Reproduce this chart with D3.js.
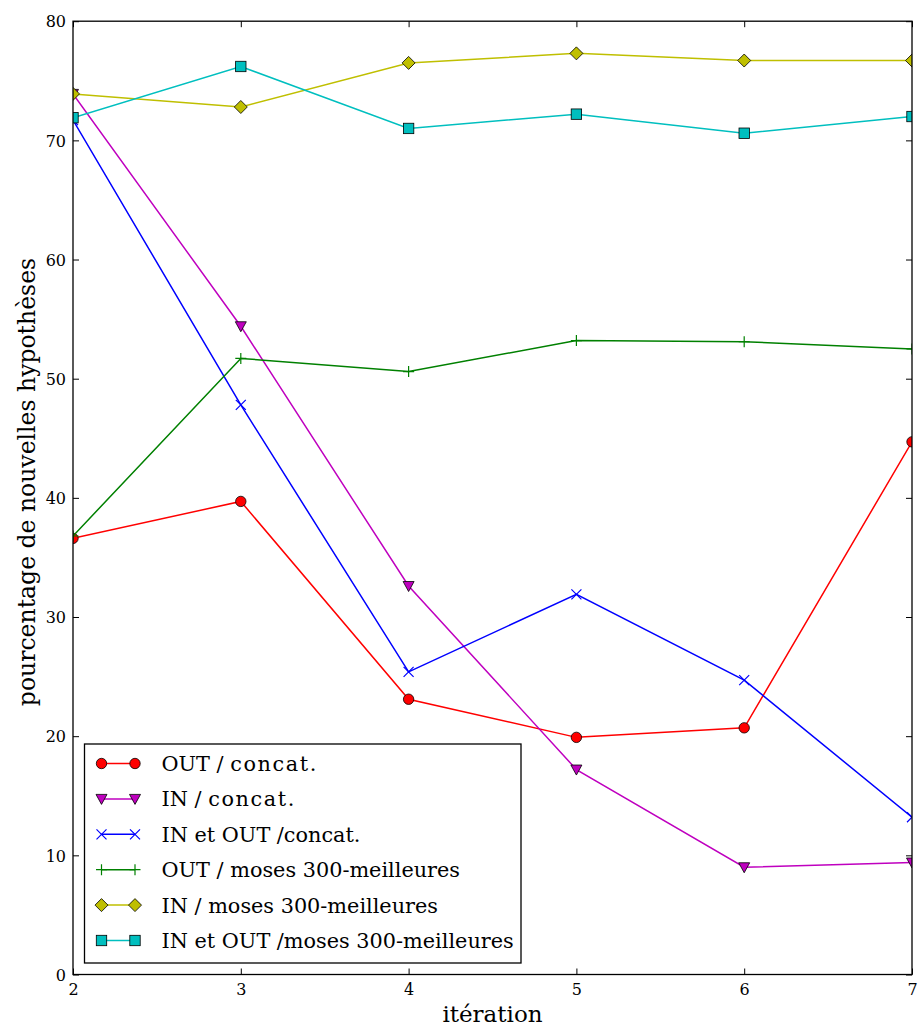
<!DOCTYPE html>
<html>
<head>
<meta charset="utf-8">
<script src="https://cdn.jsdelivr.net/npm/d3@7"></script>
<style>
  html, body { margin: 0; padding: 0; background: #fff; }
  svg { display: block; }
  text { font-family: "DejaVu Serif", serif; fill: #000; }
</style>
</head>
<body>
<svg id="chart" width="919" height="1030"></svg>
<script>
// ---- data ----
const iterations = [2, 3, 4, 5, 6, 7];
const outConcat   = [36.6, 39.7, 23.1, 19.9, 20.7, 44.7];
const inConcat    = [73.9, 54.4, 32.6, 17.2, 9.0, 9.4];
const inOutConcat = [71.7, 47.8, 25.4, 31.9, 24.7, 13.2];
const outMoses    = [36.8, 51.7, 50.6, 53.2, 53.1, 52.5];
const inMoses     = [73.9, 72.8, 76.5, 77.3, 76.7, 76.7];
const inOutMoses  = [71.9, 76.2, 71.0, 72.2, 70.6, 72.0];
const seriesLabels = [
  "OUT / concat.",
  "IN / concat.",
  "IN et OUT /concat.",
  "OUT / moses 300-meilleures",
  "IN / moses 300-meilleures",
  "IN et OUT /moses 300-meilleures"
];
const xTicks = [2, 3, 4, 5, 6, 7];
const yTicks = [0, 10, 20, 30, 40, 50, 60, 70, 80];
const xLabel = "itération";
const yLabel = "pourcentage de nouvelles hypothèses";

// ---- styles ----
const seriesValues = [outConcat, inConcat, inOutConcat, outMoses, inMoses, inOutMoses];
const colors = ["#ff0000", "#bf00bf", "#0000ff", "#008000", "#bfbf00", "#00bfbf"];
const markers = ["circle", "tri_down", "x", "plus", "diamond", "square"];

const svg = d3.select("#chart");
const plot = { left: 73, right: 912, top: 21.2, bottom: 974.5 };

const x = d3.scaleLinear().domain([2, 7]).range([plot.left, plot.right]);
const y = d3.scaleLinear().domain([0, 80]).range([plot.bottom, plot.top]);

svg.append("defs").append("clipPath").attr("id", "clip")
  .append("rect")
  .attr("x", plot.left).attr("y", plot.top)
  .attr("width", plot.right - plot.left).attr("height", plot.bottom - plot.top);

function drawMarker(g, type, color) {
  const ec = "#000", ew = 0.8;
  switch (type) {
    case "circle":
      g.append("circle").attr("r", 5.2).attr("fill", color).attr("stroke", ec).attr("stroke-width", ew); break;
    case "tri_down":
      g.append("path").attr("d", "M-5.5,-4.5L5.5,-4.5L0,5.5Z").attr("fill", color).attr("stroke", ec).attr("stroke-width", ew); break;
    case "x":
      g.append("path").attr("d", "M-5,-5L5,5M-5,5L5,-5").attr("fill", "none").attr("stroke", color).attr("stroke-width", 1.2); break;
    case "plus":
      g.append("path").attr("d", "M-5.5,0L5.5,0M0,-5.5L0,5.5").attr("fill", "none").attr("stroke", color).attr("stroke-width", 1.2); break;
    case "diamond":
      g.append("path").attr("d", "M0,-6.5L6.5,0L0,6.5L-6.5,0Z").attr("fill", color).attr("stroke", ec).attr("stroke-width", ew); break;
    case "square":
      g.append("rect").attr("x", -5.2).attr("y", -5.2).attr("width", 10.4).attr("height", 10.4).attr("fill", color).attr("stroke", ec).attr("stroke-width", ew); break;
  }
}

// ---- series ----
const dataG = svg.append("g").attr("clip-path", "url(#clip)");
const line = d3.line().x(d => x(d[0])).y(d => y(d[1]));
seriesValues.forEach((vals, i) => {
  const pts = iterations.map((it, j) => [it, vals[j]]);
  dataG.append("path").datum(pts).attr("d", line)
    .attr("fill", "none").attr("stroke", colors[i]).attr("stroke-width", 1.5);
  pts.forEach(p => {
    const mg = dataG.append("g").attr("transform", `translate(${x(p[0])},${y(p[1])})`);
    drawMarker(mg, markers[i], colors[i]);
  });
});

// ---- axes (ticks inside on all four sides) ----
const tickLen = 6;
const axB = svg.append("g").attr("transform", `translate(0,${plot.bottom})`)
  .call(d3.axisBottom(x).tickValues(xTicks).tickFormat(d3.format("d")).tickSizeInner(-tickLen).tickSizeOuter(0).tickPadding(9));
const axT = svg.append("g").attr("transform", `translate(0,${plot.top})`)
  .call(d3.axisTop(x).tickValues(xTicks).tickFormat("").tickSizeInner(-tickLen).tickSizeOuter(0));
const axL = svg.append("g").attr("transform", `translate(${plot.left},0)`)
  .call(d3.axisLeft(y).tickValues(yTicks).tickFormat(d3.format("d")).tickSizeInner(-tickLen).tickSizeOuter(0).tickPadding(7));
const axR = svg.append("g").attr("transform", `translate(${plot.right},0)`)
  .call(d3.axisRight(y).tickValues(yTicks).tickFormat("").tickSizeInner(-tickLen).tickSizeOuter(0));
[axB, axT, axL, axR].forEach(a => {
  a.select(".domain").remove();
  a.selectAll(".tick line").attr("stroke", "#000").attr("stroke-width", 1);
  a.selectAll("text").attr("font-family", "DejaVu Serif").attr("font-size", 16).attr("fill", "#111");
});
axL.selectAll("text").attr("dy", "0.36em");
axB.selectAll("text").attr("dy", "0.72em");

// frame
svg.append("rect")
  .attr("x", plot.left).attr("y", plot.top)
  .attr("width", plot.right - plot.left).attr("height", plot.bottom - plot.top)
  .attr("fill", "none").attr("stroke", "#000").attr("stroke-width", 1.3);

// axis labels
svg.append("text")
  .attr("x", (plot.left + plot.right) / 2).attr("y", 1022)
  .attr("text-anchor", "middle").attr("font-size", 23).text(xLabel);
svg.append("text")
  .attr("transform", `translate(35,482) rotate(-90)`)
  .attr("text-anchor", "middle").attr("font-size", 23.5).text(yLabel);

// ---- legend ----
const lg = svg.append("g");
const lgBox = { x: plot.left + 11.5, y: 744, w: 436.5, h: 219 };
lg.append("rect").attr("x", lgBox.x).attr("y", lgBox.y).attr("width", lgBox.w).attr("height", lgBox.h)
  .attr("fill", "#fff").attr("stroke", "#000").attr("stroke-width", 1.3);
seriesLabels.forEach((lab, i) => {
  const cy = lgBox.y + 19.5 + i * 35.4;
  const x0 = lgBox.x + 17, x1 = lgBox.x + 50.5;
  lg.append("line").attr("x1", x0).attr("x2", x1).attr("y1", cy).attr("y2", cy)
    .attr("stroke", colors[i]).attr("stroke-width", 1.5);
  [x0, x1].forEach(px => {
    const mg = lg.append("g").attr("transform", `translate(${px},${cy})`);
    drawMarker(mg, markers[i], colors[i]);
  });
  const t = lg.append("text").attr("x", lgBox.x + 77).attr("y", cy).attr("dy", "0.36em").attr("font-size", 20.8);
  const m = lab.match(/^(.* \/ )(concat\.)$/);
  if (m) {
    t.append("tspan").text(m[1]);
    t.append("tspan").attr("letter-spacing", "1.6px").text(m[2]);
  } else {
    t.text(lab);
  }
});
</script>
</body>
</html>
